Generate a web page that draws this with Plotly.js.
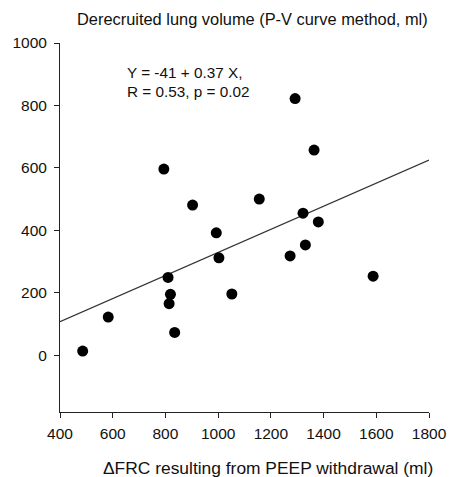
<!DOCTYPE html>
<html>
<head>
<meta charset="utf-8">
<script src="https://cdn.plot.ly/plotly-3.0.1.min.js"></script>
<style>html,body{margin:0;padding:0;background:#fff;}#chart{width:449px;height:477px;}</style>
</head>
<body>
<div id="chart"></div>
<script>
const frcX = [486, 583, 794, 903, 1156, 993, 1003, 810, 819, 814, 1052, 835, 1292, 1364, 1322, 1380, 1331, 1273, 1588];
const derecY = [13, 122, 596, 481, 500, 392, 312, 249, 195, 165, 196, 73, 822, 657, 455, 427, 353, 318, 253];
const fitX = [400, 1800];
const fitY = [107, 625];
const xTicks = [400, 600, 800, 1000, 1200, 1400, 1600, 1800];
const yTicks = [0, 200, 400, 600, 800, 1000];
const titleText = 'Derecruited lung volume (P-V curve method, ml)';
const xTitleText = '\u0394FRC resulting from PEEP withdrawal (ml)';
const eqLine1 = 'Y = -41 + 0.37 X,';
const eqLine2 = 'R = 0.53, p = 0.02';

const fam = '"Liberation Sans", Arial, Helvetica, sans-serif';
const col = '#111';
const tickFont = {family: fam, size: 15.5, color: col};
const titleFont = {family: fam, size: 16.4, color: col};
const xTitleFont = {family: fam, size: 17.4, color: col};
const eqFont = {family: fam, size: 15.3, color: col};

const traces = [
  {x: fitX, y: fitY, mode: 'lines', type: 'scatter', line: {color: '#333', width: 1.2}, hoverinfo: 'skip'},
  {x: frcX, y: derecY, mode: 'markers', type: 'scatter', marker: {color: '#000', size: 11}}
];

const layout = {
  width: 449, height: 477,
  margin: {l: 60, r: 20, t: 43, b: 65, pad: 0},
  paper_bgcolor: '#fff', plot_bgcolor: '#fff',
  showlegend: false,
  font: tickFont,
  xaxis: {
    range: [400, 1800], tickvals: xTicks, ticktext: xTicks.map(String),
    showline: true, linecolor: '#222', linewidth: 1, mirror: false,
    ticks: 'outside', ticklen: 5, tickcolor: '#222', showgrid: false, zeroline: false,
    tickfont: tickFont, ticklabelstandoff: 2, fixedrange: true
  },
  yaxis: {
    range: [-182, 1000], tickvals: yTicks, ticktext: yTicks.map(String),
    showline: true, linecolor: '#222', linewidth: 1, mirror: false,
    ticks: 'outside', ticklen: 5, tickcolor: '#222', showgrid: false, zeroline: false,
    tickfont: tickFont, ticklabelstandoff: 4, fixedrange: true
  },
  annotations: [
    {text: titleText, xref: 'paper', yref: 'paper', x: 0.04, y: 1.0646, xanchor: 'left', yanchor: 'middle', showarrow: false, font: titleFont},
    {text: eqLine1, xref: 'paper', yref: 'paper', x: 0.176, y: (411.7 - 73) / 368.4, xanchor: 'left', yanchor: 'middle', showarrow: false, font: eqFont},
    {text: eqLine2, xref: 'paper', yref: 'paper', x: 0.176, y: (411.7 - 92) / 368.4, xanchor: 'left', yanchor: 'middle', showarrow: false, font: eqFont},
    {text: xTitleText, xref: 'paper', yref: 'paper', x: 0.565, y: -0.153, xanchor: 'center', yanchor: 'middle', showarrow: false, font: xTitleFont}
  ]
};

Plotly.newPlot('chart', traces, layout, {displayModeBar: false, staticPlot: true});
</script>
</body>
</html>
